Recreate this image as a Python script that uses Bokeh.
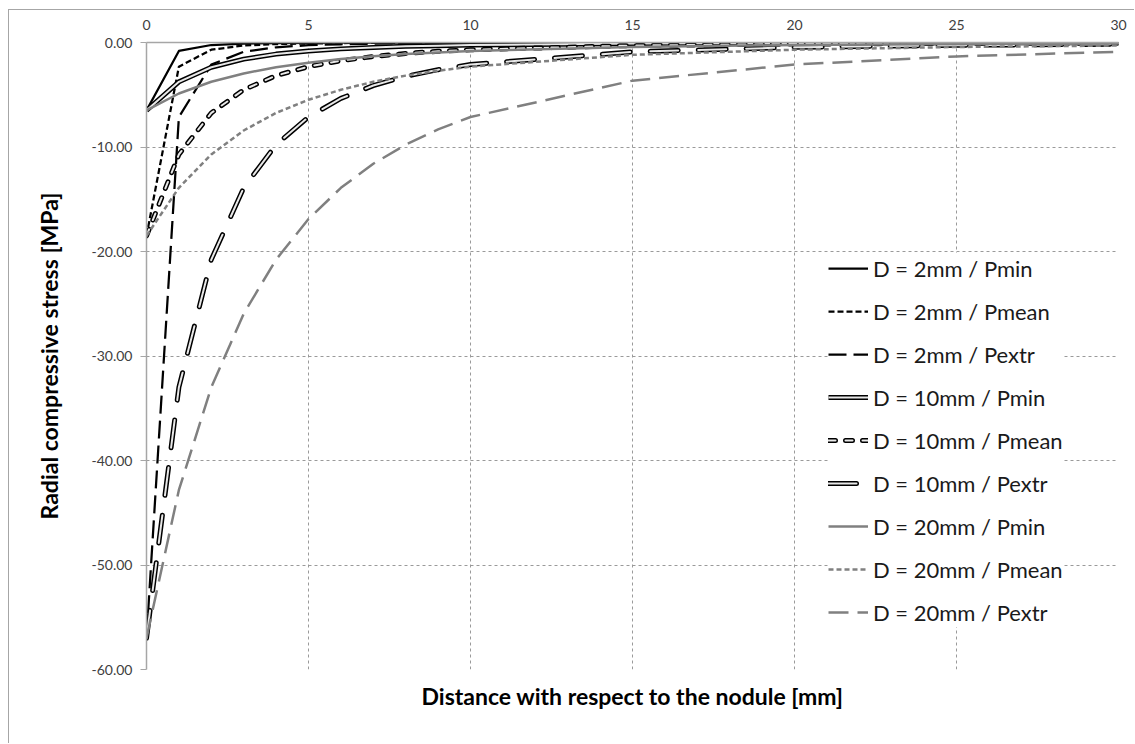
from bokeh.plotting import figure
from bokeh.models import Legend, LegendItem, FixedTicker, Title
from bokeh.embed import file_html
from bokeh.resources import INLINE

# ---- data ----
distance = [0, 1, 2, 3, 4, 5, 6, 7, 8, 9, 10, 15, 20, 25, 30]

d2_pmin = [-6.5, -0.81, -0.24, -0.10, -0.05, -0.03, -0.02, -0.01, -0.01, -0.01, 0.0, 0.0, 0.0, 0.0, 0.0]
d2_pmean = [-18.5, -2.31, -0.69, -0.29, -0.15, -0.09, -0.05, -0.04, -0.03, -0.02, -0.01, -0.01, 0.0, 0.0, 0.0]
d2_pextr = [-57.0, -7.13, -2.11, -0.89, -0.46, -0.26, -0.17, -0.11, -0.08, -0.06, -0.04, -0.01, -0.01, 0.0, 0.0]

d10_pmin = [-6.5, -3.76, -2.37, -1.59, -1.11, -0.81, -0.61, -0.47, -0.37, -0.30, -0.24, -0.10, -0.05, -0.03, -0.02]
d10_pmean = [-18.5, -10.71, -6.74, -4.52, -3.17, -2.31, -1.74, -1.34, -1.05, -0.84, -0.69, -0.29, -0.15, -0.09, -0.05]
d10_pextr = [-57.0, -32.99, -20.77, -13.91, -9.78, -7.13, -5.35, -4.12, -3.24, -2.60, -2.11, -0.89, -0.46, -0.26, -0.17]

d20_pmin = [-6.5, -4.88, -3.76, -2.96, -2.37, -1.93, -1.59, -1.32, -1.11, -0.95, -0.81, -0.42, -0.24, -0.15, -0.10]
d20_pmean = [-18.5, -13.90, -10.71, -8.42, -6.74, -5.48, -4.52, -3.76, -3.17, -2.70, -2.31, -1.18, -0.69, -0.43, -0.29]
d20_pextr = [-57.0, -42.82, -32.99, -25.95, -20.77, -16.89, -13.91, -11.60, -9.78, -8.31, -7.13, -3.65, -2.11, -1.33, -0.89]

series_labels = [
    "D = 2mm / Pmin", "D = 2mm / Pmean", "D = 2mm / Pextr",
    "D = 10mm / Pmin", "D = 10mm / Pmean", "D = 10mm / Pextr",
    "D = 20mm / Pmin", "D = 20mm / Pmean", "D = 20mm / Pextr",
]
series_values = [d2_pmin, d2_pmean, d2_pextr,
                 d10_pmin, d10_pmean, d10_pextr,
                 d20_pmin, d20_pmean, d20_pextr]

x_ticks = [0, 5, 10, 15, 20, 25, 30]
y_ticks = [0, -10, -20, -30, -40, -50, -60]
y_tick_labels = ["0.00", "-10.00", "-20.00", "-30.00", "-40.00", "-50.00", "-60.00"]

x_title = "Distance with respect to the nodule [mm]"
y_title = "Radial compressive stress [MPa]"

# ---- styles ----
BLACK = "#000000"
GRAY = "#808080"
styles = [
    dict(kind="single", color=BLACK, width=2.25, dash="solid"),
    dict(kind="single", color=BLACK, width=2.25, dash="6 3"),
    dict(kind="single", color=BLACK, width=2.25, dash="18 7"),
    dict(kind="double", dash="solid"),
    dict(kind="double", dash="7 10"),
    dict(kind="double", dash="28 20"),
    dict(kind="single", color=GRAY, width=2.5, dash="solid"),
    dict(kind="single", color=GRAY, width=2.5, dash="5 3"),
    dict(kind="single", color=GRAY, width=2.5, dash="20 9"),
]

FONT = "Lato"

p = figure(width=1126, height=734, x_range=(0, 30), y_range=(-60, 0),
           x_axis_location="above", output_backend="svg", toolbar_location=None,
           min_border_left=137, min_border_right=17, min_border_top=32,
           min_border_bottom=75)
p.styles = {"margin-left": "8px", "margin-top": "9px",
            "border-left": "1px solid #a6a6a6", "border-top": "1px solid #a6a6a6"}
p.outline_line_color = None
p.background_fill_color = "white"
p.border_fill_color = "white"

# axes
p.xaxis.ticker = FixedTicker(ticks=x_ticks)
p.yaxis.ticker = FixedTicker(ticks=y_ticks)
p.yaxis.major_label_overrides = {t: l for t, l in zip(y_ticks, y_tick_labels)}
p.xaxis.major_label_overrides = {t: str(t) for t in x_ticks}

for ax in (p.xaxis[0], p.yaxis[0]):
    ax.axis_line_color = "#a6a6a6"
    ax.axis_line_width = 1.5
    ax.minor_tick_line_color = None
    ax.major_label_text_font = FONT
    ax.major_label_text_font_size = "14px"
    ax.major_label_text_color = "#404040"
    ax.major_tick_line_color = "#a6a6a6"

p.xaxis.major_tick_out = 0
p.xaxis.major_tick_in = 0
p.xaxis.major_label_standoff = 13

p.yaxis.major_tick_out = 6
p.yaxis.major_tick_in = 0
p.yaxis.major_label_standoff = 8
p.yaxis.axis_label = y_title
p.yaxis.axis_label_text_font = FONT
p.yaxis.axis_label_text_font_size = "23px"
p.yaxis.axis_label_text_font_style = "bold"
p.yaxis.axis_label_text_color = "#000000"
p.yaxis.axis_label_standoff = 26

# grid
p.xgrid.grid_line_color = "#9a9a9a"
p.xgrid.grid_line_dash = "3 3"
p.xgrid.grid_line_width = 1
p.ygrid.grid_line_color = "#9a9a9a"
p.ygrid.grid_line_dash = "3 3"
p.ygrid.grid_line_width = 1

items = []
for label, vals, st in zip(series_labels, series_values, styles):
    if st["kind"] == "single":
        r = p.line(distance, vals, line_color=st["color"], line_width=st["width"],
                   line_dash=st["dash"], line_join="round")
        items.append(LegendItem(label=label, renderers=[r]))
    else:
        cap = "round" if st["dash"] != "solid" else "butt"
        r1 = p.line(distance, vals, line_color=BLACK, line_width=5,
                    line_dash=st["dash"], line_cap=cap, line_join="round")
        r2 = p.line(distance, vals, line_color="#e8e8e8", line_width=2,
                    line_dash=st["dash"], line_cap=cap, line_join="round")
        items.append(LegendItem(label=label, renderers=[r1, r2]))

legend = Legend(items=items, location=(682, 42), glyph_width=40, glyph_height=30,
                label_height=30, spacing=13, padding=4, margin=0, label_standoff=5,
                label_text_font=FONT, label_text_font_size="22px",
                label_text_color="#1a1a1a",
                border_line_color=None, background_fill_color="white",
                background_fill_alpha=1.0)
p.add_layout(legend)

p.add_layout(Title(text=x_title, align="center", text_font=FONT,
                   text_font_size="23px", text_font_style="bold",
                   text_color="#000000", standoff=20), "below")

open("out.html", "w").write(file_html(p, INLINE))
